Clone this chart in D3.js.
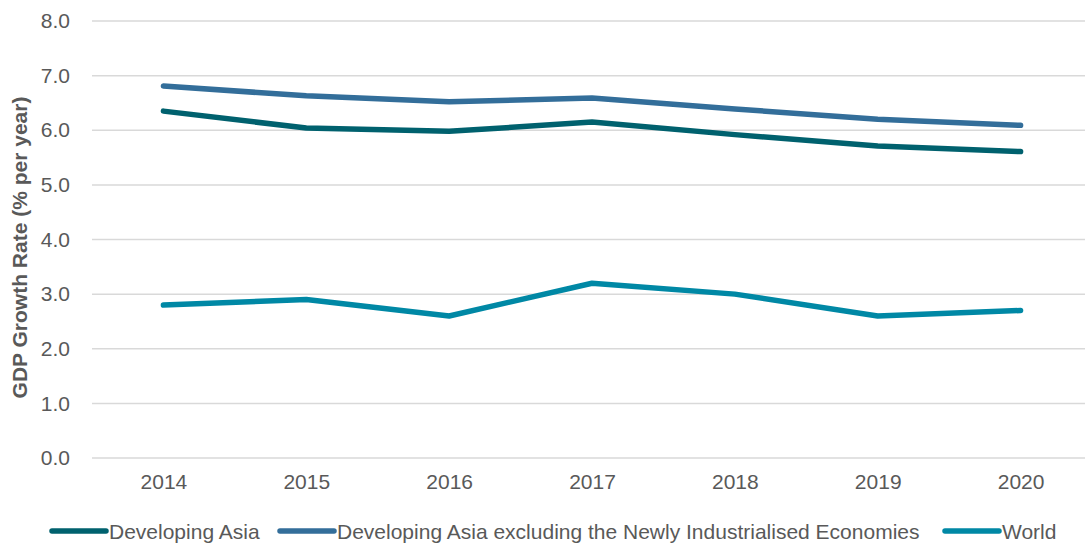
<!DOCTYPE html>
<html>
<head>
<meta charset="utf-8">
<script src="https://cdn.jsdelivr.net/npm/d3@7"></script>
<style>
  html, body { margin: 0; padding: 0; background: #fff; }
  svg { display: block; font-family: "Liberation Sans", Arial, sans-serif; }
</style>
</head>
<body>
<svg id="chart" width="1085" height="546"></svg>
<script>
const years = ['2014', '2015', '2016', '2017', '2018', '2019', '2020'];
const developingAsia = [6.35, 6.04, 5.98, 6.15, 5.92, 5.71, 5.61];
const excludingNIEs = [6.81, 6.63, 6.52, 6.59, 6.39, 6.20, 6.09];
const world = [2.8, 2.9, 2.6, 3.2, 3.0, 2.6, 2.7];
const yTicks = [0, 1, 2, 3, 4, 5, 6, 7, 8];

const series = [
    { name: 'Developing Asia', values: developingAsia, color: '#00616E' },
    { name: 'Developing Asia excluding the Newly Industrialised Economies', values: excludingNIEs, color: '#336E9A' },
    { name: 'World', values: world, color: '#0088A5' },
];

const svg = d3.select('#chart');
const margin = { top: 21, right: -7, bottom: 88, left: 92 };
const width = 1085, height = 546;
const fontSize = 21;

const x = d3.scalePoint()
    .domain(years)
    .range([margin.left, width - margin.right])
    .padding(0.5);

const y = d3.scaleLinear()
    .domain([0, 8])
    .range([height - margin.bottom, margin.top]);

// gridlines
svg.append('g')
    .selectAll('line')
    .data(yTicks)
    .join('line')
    .attr('x1', margin.left)
    .attr('x2', width)
    .attr('y1', d => y(d))
    .attr('y2', d => y(d))
    .attr('stroke', '#d9d9d9')
    .attr('stroke-width', 1.5);

// y axis labels
svg.append('g')
    .attr('transform', `translate(${margin.left - 19},0)`)
    .call(d3.axisLeft(y).tickValues(yTicks).tickFormat(d3.format('.1f')).tickSize(0))
    .call(g => g.select('.domain').remove())
    .call(g => g.selectAll('text')
        .attr('font-size', fontSize)
        .attr('fill', '#595959')
        .attr('font-family', '"Liberation Sans", Arial, sans-serif'));

// x axis labels
svg.append('g')
    .attr('transform', `translate(0,${height - margin.bottom + 13})`)
    .call(d3.axisBottom(x).tickSize(0))
    .call(g => g.select('.domain').remove())
    .call(g => g.selectAll('text')
        .attr('font-size', fontSize)
        .attr('fill', '#595959')
        .attr('font-family', '"Liberation Sans", Arial, sans-serif'));

// y axis title
svg.append('text')
    .attr('transform', `translate(27,${(margin.top + height - margin.bottom) / 2 + 8}) rotate(-90)`)
    .attr('text-anchor', 'middle')
    .attr('font-size', fontSize)
    .attr('font-weight', 'bold')
    .attr('fill', '#595959')
    .text('GDP Growth Rate (% per year)');

// lines
const line = d3.line()
    .x((d, i) => x(years[i]))
    .y(d => y(d));

svg.append('g')
    .selectAll('path')
    .data(series)
    .join('path')
    .attr('fill', 'none')
    .attr('stroke', d => d.color)
    .attr('stroke-width', 5.5)
    .attr('stroke-linecap', 'round')
    .attr('stroke-linejoin', 'round')
    .attr('d', d => line(d.values));

// legend
const legendX = [50, 278, 943];
const legend = svg.append('g').attr('transform', 'translate(0,531)');
series.forEach((s, i) => {
    const g = legend.append('g').attr('transform', `translate(${legendX[i]},0)`);
    g.append('line')
        .attr('x1', 2).attr('x2', 56)
        .attr('y1', 0).attr('y2', 0)
        .attr('stroke', s.color)
        .attr('stroke-width', 5.5)
        .attr('stroke-linecap', 'round');
    g.append('text')
        .attr('x', 59)
        .attr('y', 7.5)
        .attr('font-size', fontSize)
        .attr('fill', '#595959')
        .text(s.name);
});
</script>
</body>
</html>
